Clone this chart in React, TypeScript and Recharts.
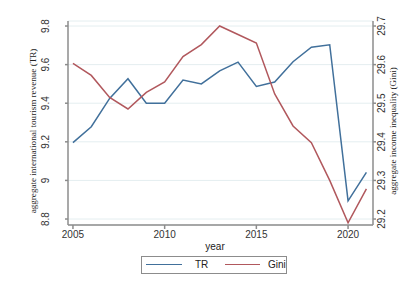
import { LineChart, Line, XAxis, YAxis, CartesianGrid } from "recharts";

const years = [2005, 2006, 2007, 2008, 2009, 2010, 2011, 2012, 2013, 2014, 2015, 2016, 2017, 2018, 2019, 2020, 2021];
const trValues = [9.196, 9.278, 9.425, 9.527, 9.4, 9.4, 9.52, 9.5, 9.568, 9.613, 9.487, 9.51, 9.615, 9.69, 9.703, 8.894, 9.042];
const giniValues = [29.603, 29.572, 29.515, 29.485, 29.528, 29.555, 29.621, 29.652, 29.7, 29.678, 29.656, 29.524, 29.441, 29.398, 29.3, 29.19, 29.278];
const xTicks = [2005, 2010, 2015, 2020];
const trTicks = [8.8, 9, 9.2, 9.4, 9.6, 9.8];
const giniTicks = [29.2, 29.3, 29.4, 29.5, 29.6, 29.7];

const data = years.map((year, i) => ({ year, tr: trValues[i], gini: giniValues[i] }));

const BLUE = "#41709b";
const RED = "#b1585d";
const AXIS = "#8c8c8c";
const sans = "'Liberation Sans', Arial, sans-serif";
const serif = "'Liberation Serif', 'Times New Roman', serif";

const LeftTick = ({ x, y, payload }: any) => {
  const cx = x - 17;
  return (
    <text x={cx} y={y} transform={`rotate(-90 ${cx} ${y})`} textAnchor="middle" dominantBaseline="central"
      fontSize={10} fontFamily={sans} fill="#333">
      {payload.value}
    </text>
  );
};

const RightTick = ({ x, y, payload }: any) => {
  const cx = x + 4;
  return (
    <text x={cx} y={y} transform={`rotate(-90 ${cx} ${y})`} textAnchor="middle" dominantBaseline="central"
      fontSize={10} fontFamily={sans} fill="#333">
      {payload.value}
    </text>
  );
};

const BottomTick = ({ x, y, payload }: any) => (
  <text x={x} y={y + 3} textAnchor="middle" dominantBaseline="central" fontSize={10} fontFamily={sans} fill="#333">
    {payload.value}
  </text>
);

const VerticalTitle = ({ cx, text }: { cx: number; text: string }) => (
  <text x={cx} y={131} transform={`rotate(-90 ${cx} 131)`} textAnchor="middle" dominantBaseline="central"
    fontSize={9.1} fontFamily={serif} fill="#222">
    {text}
  </text>
);

const legendText = { position: "absolute" as const, top: 0, lineHeight: "16px", fontFamily: sans, fontSize: 10, color: "#222" };

export default function App() {
  return (
    <div style={{ position: "absolute", left: 0, top: 0, width: 414, height: 283, background: "#fff" }}>
      <LineChart width={414} height={283} data={data} margin={{ top: 21, right: 11, left: 38, bottom: 38 }}>
        <CartesianGrid yAxisId="tr" horizontal vertical={false} stroke="#e4eef0" strokeWidth={1} />
        <XAxis dataKey="year" type="number" domain={[2004.73, 2021.36]} ticks={xTicks} allowDataOverflow
          height={20} tickSize={4} tickMargin={2} stroke={AXIS} strokeWidth={1.5} tick={<BottomTick />} />
        <YAxis yAxisId="tr" orientation="left" type="number" domain={[8.769, 9.826]} ticks={trTicks} allowDataOverflow
          width={30} tickSize={3} tickMargin={2} stroke={AXIS} strokeWidth={1.5} tick={<LeftTick />} />
        <YAxis yAxisId="gini" orientation="right" type="number" domain={[29.1845, 29.713]} ticks={giniTicks} allowDataOverflow
          width={30} tickSize={3} tickMargin={2} stroke={AXIS} strokeWidth={1.5} tick={<RightTick />} />
        <Line yAxisId="tr" dataKey="tr" stroke={BLUE} strokeWidth={1.5} dot={false} isAnimationActive={false} />
        <Line yAxisId="gini" dataKey="gini" stroke={RED} strokeWidth={1.5} dot={false} isAnimationActive={false} />
        <VerticalTitle cx={33} text="aggregate international tourism revenue (TR)" />
        <VerticalTitle cx={393} text="aggregate income inequality (Gini)" />
        <text x={215} y={246} textAnchor="middle" dominantBaseline="central" fontSize={10} fontFamily={sans} fill="#222">
          year
        </text>
      </LineChart>
      <div style={{ position: "absolute", left: 141, top: 256, width: 146, height: 18, border: "1px solid #8c8c8c", boxSizing: "border-box" }}>
        <span style={{ position: "absolute", left: 4, top: 7, width: 36, height: 0, borderTop: `1.5px solid ${BLUE}` }} />
        <span style={{ ...legendText, left: 53 }}>TR</span>
        <span style={{ position: "absolute", left: 83, top: 7, width: 35, height: 0, borderTop: `1.5px solid ${RED}` }} />
        <span style={{ ...legendText, left: 126 }}>Gini</span>
      </div>
    </div>
  );
}
